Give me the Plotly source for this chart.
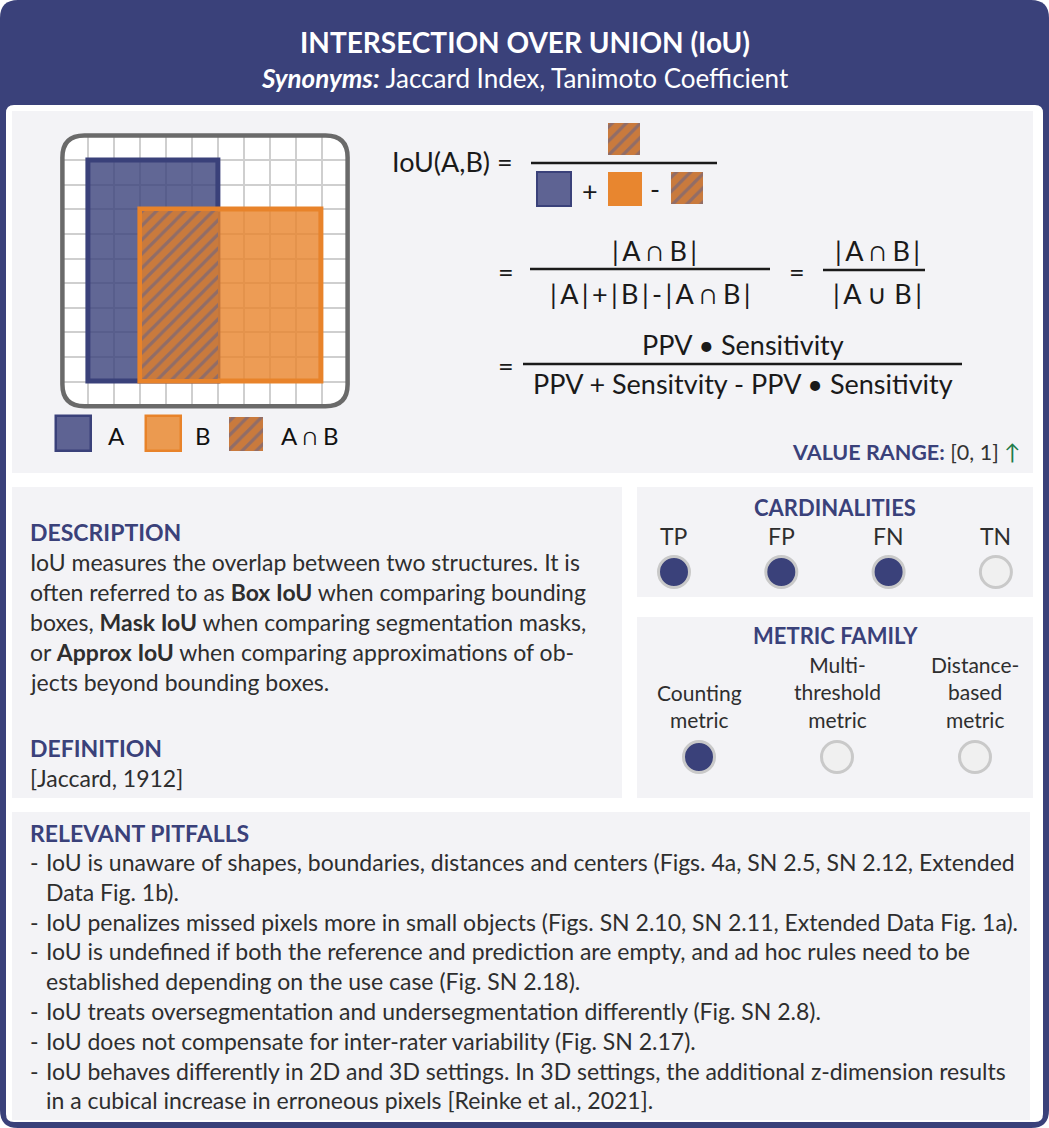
import plotly.graph_objects as go

W, H = 1049, 1128

# ---------------- data ----------------
GRID_N = 11
A_BOX = [1, 1, 6, 10]    # x0, y0, x1, y1 in grid cells
B_BOX = [3, 3, 10, 10]   # x0, y0, x1, y1 in grid cells
CARD_LABELS = ["TP", "FP", "FN", "TN"]
CARD_USED = [1, 1, 1, 0]
FAMILY_LABELS = ["Counting<br>metric", "Multi-<br>threshold<br>metric", "Distance-<br>based<br>metric"]
FAMILY_USED = [1, 0, 0]
VALUE_RANGE = [0, 1]
TITLE = "INTERSECTION OVER UNION (IoU)"
SYNONYMS = "Jaccard Index, Tanimoto Coefficient"
DESCRIPTION_LINES = [
    "IoU measures the overlap between two structures. It is",
    "often referred to as <b>Box IoU</b> when comparing bounding",
    "boxes, <b>Mask IoU</b> when comparing segmentation masks,",
    "or <b>Approx IoU</b> when comparing approximations of ob-",
    "jects beyond bounding boxes.",
]
DEFINITION = "[Jaccard, 1912]"
PITFALLS = [
    ["IoU is unaware of shapes, boundaries, distances and centers (Figs. 4a, SN 2.5, SN 2.12, Extended",
     "Data Fig. 1b)."],
    ["IoU penalizes missed pixels more in small objects (Figs. SN 2.10, SN 2.11, Extended Data Fig. 1a)."],
    ["IoU is undefined if both the reference and prediction are empty, and ad hoc rules need to be",
     "established depending on the use case (Fig. SN 2.18)."],
    ["IoU treats oversegmentation and undersegmentation differently (Fig. SN 2.8)."],
    ["IoU does not compensate for inter-rater variability (Fig. SN 2.17)."],
    ["IoU behaves differently in 2D and 3D settings. In 3D settings, the additional z-dimension results",
     "in a cubical increase in erroneous pixels [Reinke et al., 2021]."],
]

# ---------------- styles ----------------
FONT = "Lato, 'Open Sans', sans-serif"
NAVY = "#3A417A"
PANEL = "#F3F3F6"
TXT = "#2E2E2E"
BLK = "#1A1A1A"
A_FILL = "rgba(58,65,122,0.80)"
B_FILL = "rgba(232,131,42,0.80)"
B_LINE = "#E8832A"
HATCH_BG = "#C97A3D"
HATCH_FG = "#5A6092"
A_SOLID = "#5E6393"
BODY = 23

fig = go.Figure()
shapes = []
ann = []


def rrect(x0, y0, x1, y1, r):
    return (f"M{x0+r},{y0} L{x1-r},{y0} Q{x1},{y0} {x1},{y0+r} L{x1},{y1-r} "
            f"Q{x1},{y1} {x1-r},{y1} L{x0+r},{y1} Q{x0},{y1} {x0},{y1-r} "
            f"L{x0},{y0+r} Q{x0},{y0} {x0+r},{y0} Z")


def text(x, y, s, size=BODY, color=TXT, xanchor="left", yanchor="middle", align="left"):
    ann.append(dict(x=x, y=y, xref="x", yref="y", text=s, showarrow=False,
                    xanchor=xanchor, yanchor=yanchor, align=align,
                    font=dict(family=FONT, size=size, color=color)))


def rect(x0, y0, x1, y1, fill, line=None, lw=0, layer="below"):
    shapes.append(dict(type="rect", xref="x", yref="y", x0=x0, y0=y0, x1=x1, y1=y1,
                       fillcolor=fill, line=dict(color=line or fill, width=lw), layer=layer))


def hline(x0, x1, y, w=2.5):
    shapes.append(dict(type="line", xref="x", yref="y", x0=x0, x1=x1, y0=y, y1=y,
                       line=dict(color=BLK, width=w), layer="above"))


# ---- frame ----
shapes.append(dict(type="path", xref="x", yref="y", path=rrect(0, 0, W, H, 18),
                   fillcolor=NAVY, line=dict(width=0), layer="below"))
shapes.append(dict(type="path", xref="x", yref="y", path=rrect(6, 105, W - 6, H - 6, 8),
                   fillcolor="white", line=dict(width=0), layer="below"))
# panels
rect(12, 111, 1033, 473, PANEL)
rect(12, 487, 622, 798, PANEL)
rect(637, 487, 1033, 597, PANEL)
rect(637, 617, 1033, 798, PANEL)
rect(12, 812, 1030, 1120, PANEL)

# ---- title ----
text(W / 2, 42, f"<b>{TITLE}</b>", size=28, color="white", xanchor="center")
text(W / 2, 78, f"<b><i>Synonyms:</i></b> {SYNONYMS}", size=26, color="white", xanchor="center")

# ---- grid illustration (own axes in grid units) ----
GX0, GX1, GY0, GY1 = 62.4, 347.6, 135.4, 406.3
shapes.append(dict(type="path", xref="x", yref="y", path=rrect(GX0, GY0, GX1, GY1, 22),
                   fillcolor="white", line=dict(width=0), layer="below"))
shapes.append(dict(type="path", xref="x", yref="y", path=rrect(GX0, GY0, GX1, GY1, 22),
                   fillcolor="rgba(0,0,0,0)", line=dict(color="#6A6A6A", width=4.5), layer="above"))


def box_bar(box, fill, line, lw, pattern=None, pad=0.0):
    x0, y0, x1, y1 = box
    m = dict(color=fill, line=dict(color=line, width=lw))
    if pattern:
        m["pattern"] = pattern
    fig.add_trace(go.Bar(x=[(x0 + x1) / 2], y=[(y1 - y0) - 2 * pad], base=[y0 + pad],
                         width=[(x1 - x0) - 2 * pad], marker=m, xaxis="x2", yaxis="y2",
                         hoverinfo="skip", showlegend=False))


HATCH = dict(shape="/", fgcolor=HATCH_FG, bgcolor=HATCH_BG, size=10, solidity=0.32)
box_bar(A_BOX, A_FILL, NAVY, 5)
box_bar(B_BOX, B_FILL, B_LINE, 5)
inter = [max(A_BOX[0], B_BOX[0]), max(A_BOX[1], B_BOX[1]),
         min(A_BOX[2], B_BOX[2]), min(A_BOX[3], B_BOX[3])]
ix = [inter[0] + 0.1, inter[1] + 0.1, inter[2], inter[3] - 0.1]
box_bar(ix, HATCH_BG, HATCH_BG, 0, pattern=HATCH)


# ---- legend squares / formula squares (pixel axes) ----
def px_bar(x0, y0, x1, y1, fill, line=None, lw=0, pattern=None):
    m = dict(color=fill, line=dict(color=line or fill, width=lw))
    if pattern:
        m["pattern"] = pattern
    fig.add_trace(go.Bar(x=[(x0 + x1) / 2], y=[y1 - y0], base=[y0], width=[x1 - x0],
                         marker=m, xaxis="x", yaxis="y", hoverinfo="skip", showlegend=False))


px_bar(56, 416, 91, 451, A_SOLID, NAVY, 2.5)
px_bar(146, 416, 181, 451, "#EB9A50", B_LINE, 2.5)
px_bar(229, 417, 263, 451, HATCH_BG, pattern=HATCH)
text(116, 435, "A", size=24, color="#111", xanchor="center")
text(203, 435, "B", size=24, color="#111", xanchor="center")
text(310, 435, "A ∩ B", size=24, color="#111", xanchor="center")

# formula
TS = "\u2009"
px_bar(608, 123, 640, 155, HATCH_BG, pattern=HATCH)
px_bar(537, 172, 571, 206, A_SOLID, NAVY, 2)
px_bar(608, 172, 642, 206, "#E8862F")
px_bar(671, 172, 703, 204, HATCH_BG, pattern=HATCH)
text(515, 161, "IoU(A,B) =", size=27, color=BLK, xanchor="right")
hline(531, 717, 163)
text(590, 190, "+", size=27, color=BLK, xanchor="center")
text(655, 188, "-", size=27, color=BLK, xanchor="center")

text(506, 271, "=", size=27, color=BLK, xanchor="center")
hline(530, 770, 269)
text(654, 250, f"|{TS}A ∩ B{TS}|", size=27, color=BLK, xanchor="center")
text(650, 293, f"|{TS}A{TS}|{TS}+{TS}|{TS}B{TS}|{TS}-{TS}|{TS}A ∩ B{TS}|", size=27, color=BLK, xanchor="center")
text(797, 271, "=", size=27, color=BLK, xanchor="center")
hline(823, 925, 270)
text(877, 250, f"|{TS}A ∩ B{TS}|", size=27, color=BLK, xanchor="center")
text(877, 293, f"|{TS}A ∪ B{TS}|", size=27, color=BLK, xanchor="center")

text(506, 365, "=", size=27, color=BLK, xanchor="center")
hline(523, 962, 364)
text(743, 344, "PPV • Sensitivity", size=27, color=BLK, xanchor="center")
text(743, 383, "PPV + Sensitvity - PPV • Sensitivity", size=27, color=BLK, xanchor="center")

text(1022, 452, f"<b>VALUE RANGE:</b> <span style='color:#333'>[{VALUE_RANGE[0]}, {VALUE_RANGE[1]}]</span> "
     f"<span style='color:#1E7B4A'>↑</span>", size=21.5, color=NAVY, xanchor="right")

# ---- description ----
text(28, 532, "<b>DESCRIPTION</b>", color=NAVY)
for i, line in enumerate(DESCRIPTION_LINES):
    text(28, 562 + 30 * i, line)
text(28, 748, "<b>DEFINITION</b>", color=NAVY)
text(28, 778, DEFINITION)

# ---- cardinalities ----
text(835, 507, "<b>CARDINALITIES</b>", size=22, color=NAVY, xanchor="center")
cx = [674 + 107.3 * i for i in range(len(CARD_LABELS))]
for x, lab in zip(cx, CARD_LABELS):
    text(x, 536, lab, size=23, xanchor="center")
fig.add_trace(go.Scatter(x=cx, y=[572] * len(cx), mode="markers", xaxis="x", yaxis="y",
                         marker=dict(size=31, color=[NAVY if u else "#F0F0F0" for u in CARD_USED],
                                     line=dict(color="#C9C9C9", width=3)),
                         hoverinfo="skip", showlegend=False))

# ---- metric family ----
text(835, 635, "<b>METRIC FAMILY</b>", size=22, color=NAVY, xanchor="center")
fx = [699 + 138 * i for i in range(len(FAMILY_LABELS))]
for x, lab in zip(fx, FAMILY_LABELS):
    text(x, 734, lab, size=21, xanchor="center", yanchor="bottom", align="center")
fig.add_trace(go.Scatter(x=fx, y=[757] * len(fx), mode="markers", xaxis="x", yaxis="y",
                         marker=dict(size=31, color=[NAVY if u else "#F0F0F0" for u in FAMILY_USED],
                                     line=dict(color="#C9C9C9", width=3)),
                         hoverinfo="skip", showlegend=False))

# ---- pitfalls ----
text(28, 833, "<b>RELEVANT PITFALLS</b>", color=NAVY)
row = 0
for item in PITFALLS:
    for j, line in enumerate(item):
        y = 862 + 29.8 * row
        if j == 0:
            text(28, y, "-")
        text(44, y, line)
        row += 1

fig.update_layout(
    width=W, height=H, margin=dict(l=0, r=0, t=0, b=0),
    paper_bgcolor="white", plot_bgcolor="rgba(0,0,0,0)",
    barmode="overlay", bargap=0,
    xaxis=dict(range=[0, W], domain=[0, 1], visible=False, fixedrange=True),
    yaxis=dict(range=[H, 0], domain=[0, 1], visible=False, fixedrange=True),
    xaxis2=dict(range=[0, GRID_N], domain=[GX0 / W, GX1 / W], anchor="y2",
                tickvals=list(range(1, GRID_N)), showticklabels=False, ticks="",
                showgrid=True, gridcolor="#CFCFCF", gridwidth=1.5, zeroline=False,
                showline=False, fixedrange=True),
    yaxis2=dict(range=[GRID_N, 0], domain=[1 - GY1 / H, 1 - GY0 / H], anchor="x2",
                tickvals=list(range(1, GRID_N)), showticklabels=False, ticks="",
                showgrid=True, gridcolor="#CFCFCF", gridwidth=1.5, zeroline=False,
                showline=False, fixedrange=True),
    shapes=shapes, annotations=ann, showlegend=False,
)

fig.write_html("out.html", config={"displayModeBar": False},
               post_script="document.body.style.margin='0';")
